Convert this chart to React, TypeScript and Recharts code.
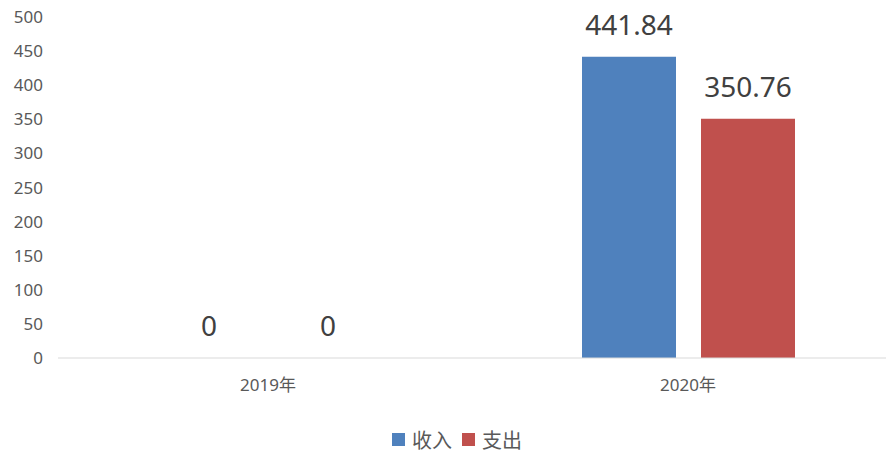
import { Bar, BarChart, LabelList, Legend, XAxis, YAxis } from "recharts"

const years = ["2019年", "2020年"]
const income = [0, 441.84]
const expense = [0, 350.76]
const seriesNames = ["收入", "支出"]
const seriesColors = ["#4f81bd", "#c0504d"]
const yTicks = [0, 50, 100, 150, 200, 250, 300, 350, 400, 450, 500]

const data = years.map((year, i) => ({
  year,
  收入: income[i],
  支出: expense[i],
}))

const font = "'Noto Sans', 'Noto Sans CJK SC', sans-serif"

const renderLegend = () => (
  <div style={{ display: "flex", justifyContent: "center", alignItems: "center", gap: 10, paddingLeft: 8 }}>
    {seriesNames.map((name, i) => (
      <span key={name} style={{ display: "flex", alignItems: "center", color: "#595959", fontSize: 20 }}>
        <span style={{ width: 13, height: 13, background: seriesColors[i], marginRight: 7, display: "inline-block" }} />
        {name}
      </span>
    ))}
  </div>
)

const renderValue = (props: any) => {
  const { x, y, width, value } = props
  return (
    <text x={x + width / 2} y={y - 22} textAnchor="middle" fill="#404040" fontSize={28}>
      {value}
    </text>
  )
}

export default function App() {
  return (
    <div style={{ position: "absolute", left: 0, top: 0, width: 886, height: 454, overflow: "hidden", background: "#fff" }}>
      <BarChart
        width={900}
        height={454}
        data={data}
        margin={{ top: 17, right: 2, left: 8, bottom: 37 }}
        barSize={94}
        barGap={25}
        style={{ fontFamily: font }}
      >
        <XAxis
          dataKey="year"
          axisLine={{ stroke: "#d9d9d9" }}
          tickLine={false}
          tick={{ fill: "#595959", fontSize: 17 }}
          tickMargin={15}
        />
        <YAxis
          width={50}
          domain={[0, 500]}
          ticks={yTicks}
          interval={0}
          axisLine={false}
          tickLine={false}
          tick={{ fill: "#595959", fontSize: 17 }}
          tickMargin={9}
        />
        <Legend content={renderLegend} wrapperStyle={{ bottom: 0 }} />
        <Bar dataKey="收入" fill={seriesColors[0]} minPointSize={0.01} isAnimationActive={false}>
          <LabelList dataKey="收入" content={renderValue} />
        </Bar>
        <Bar dataKey="支出" fill={seriesColors[1]} minPointSize={0.01} isAnimationActive={false}>
          <LabelList dataKey="支出" content={renderValue} />
        </Bar>
      </BarChart>
    </div>
  )
}
